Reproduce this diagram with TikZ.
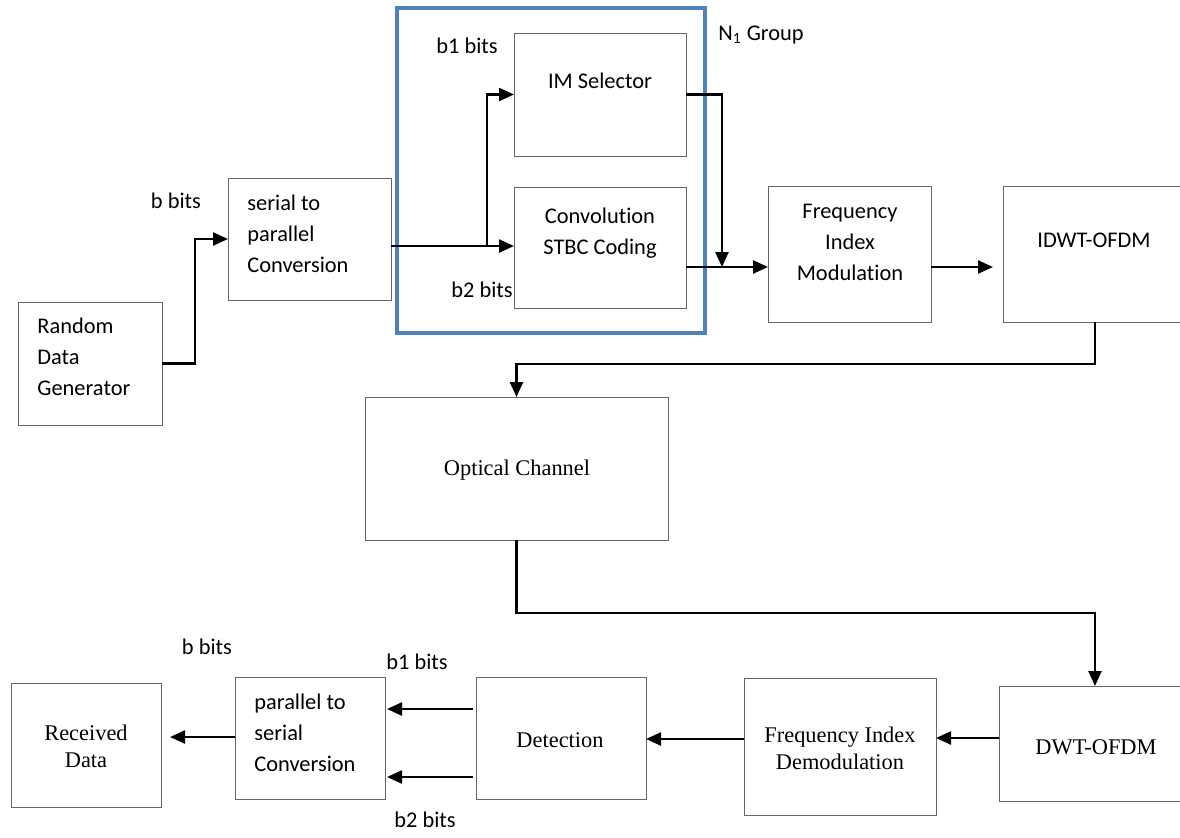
\documentclass[tikz,border=0pt]{standalone}
\usepackage{fontspec}
\setmainfont{Carlito}[Ligatures=NoCommon]
\newfontfamily\timesfont{Liberation Serif}
\usetikzlibrary{arrows.meta,calc}
\begin{document}
\begin{tikzpicture}[x=0.5pt,y=-0.5pt,
  box/.style={draw=black!60,line width=0.5pt,rectangle,inner sep=0pt,outer sep=0pt},
  arr/.style={line width=1.2pt,-{Triangle[length=7.5pt,width=6.5pt]}},
  txt/.style={inner sep=0pt,font=\fontsize{11.2}{15.5}\selectfont},
  ttxt/.style={inner sep=0pt,font=\timesfont\fontsize{11.2}{13.5}\selectfont},
  grp/.style={draw={rgb,255:red,79;green,129;blue,189},line width=1.6pt}
]
\useasboundingbox (0,0) rectangle (1180,837);
% group frame
\draw[grp] (397,8) rectangle (705,333);
% boxes
\node[box,minimum width=72pt,minimum height=61.5pt] (rdg) at (90,363.5) {};
\node[box,minimum width=81.5pt,minimum height=61pt] (sp) at (309.5,239) {};
\node[box,minimum width=86pt,minimum height=61.5pt] (im) at (600,94.5) {};
\node[box,minimum width=86pt,minimum height=60.5pt] (conv) at (600,247.5) {};
\node[box,minimum width=81.5pt,minimum height=68pt] (fim) at (849.5,254) {};
\node[box,minimum width=92pt,minimum height=68pt] (idwt) at (1095,254) {};
\node[box,minimum width=151.5pt,minimum height=71.5pt] (opt) at (516.5,468.5) {};
\node[box,minimum width=96pt,minimum height=57.5pt] (dwt) at (1095,743.5) {};
\node[box,minimum width=96pt,minimum height=68.5pt] (fid) at (840,746.5) {};
\node[box,minimum width=85pt,minimum height=61pt] (det) at (561,738) {};
\node[box,minimum width=75pt,minimum height=61pt] (ps) at (310,738) {};
\node[box,minimum width=75pt,minimum height=62pt] (rd) at (86,745) {};
% texts
\node[txt,align=left,anchor=west] (trdg) at (37,357) {Random\\Data\\Generator};
\node[txt,align=left,anchor=west] (tsp) at (247,234) {serial to\\parallel\\Conversion};
\node[txt] (tim) at (600,81) {IM Selector};
\node[txt,align=center] (tconv) at (600,233.5) {Convolution\\STBC Coding};
\node[txt,align=center] (tfim) at (850,242) {Frequency\\Index\\Modulation};
\node[txt] (tidwt) at (1094,240) {IDWT-OFDM};
\node[ttxt] (topt) at (517,470) {Optical Channel};
\node[ttxt] (tdwt) at (1096,747) {DWT-OFDM};
\node[ttxt,align=center] (tfid) at (840,748.5) {Frequency Index\\Demodulation};
\node[ttxt] (tdet) at (560,740) {Detection};
\node[txt,align=left,anchor=west] (tps) at (254,733) {parallel to\\serial\\Conversion};
\node[ttxt,align=center] (trd) at (86,746.5) {Received\\Data};
% bit labels
\node[txt] (lb) at (176,201) {b bits};
\node[txt] (lb1) at (467,46) {b1 bits};
\node[txt] (lb2) at (482,290) {b2 bits};
\node[txt] (lgrp) at (761,35) {N\textsubscript{1} Group};
\node[txt] (lbr) at (207,647) {b bits};
\node[txt] (lbr1) at (417,662) {b1 bits};
\node[txt] (lbr2) at (425,820) {b2 bits};
% connectors
\coordinate (br) at (487,246);
\coordinate (jn) at (722,267);
\draw[arr] (rdg.east) -- ++(33,0) |- (sp.west);
\draw[arr] (sp.east |- br) -- (conv.west |- br);
\draw[arr] (br) |- (im.west);
\draw[arr] (im.east) -| (jn);
\draw[arr] (conv.east |- jn) -- (fim.west |- jn);
\draw[arr,shorten >=5pt] (fim.east |- jn) -- (idwt.west |- jn);
\draw[arr] (idwt.south) -- ++(0,42) -| (opt.north);
\draw[arr] (opt.south) -- ++(0,73) -| (dwt.north);
\draw[arr] (dwt.west |- 0,738) -- (fid.east |- 0,738);
\draw[arr] (fid.west |- 0,739) -- (det.east |- 0,739);
\draw[arr] ([xshift=-1.5pt]det.west |- 0,709) -- ([xshift=1pt]ps.east |- 0,709);
\draw[arr] ([xshift=-1.5pt]det.west |- 0,777) -- ([xshift=1pt]ps.east |- 0,777);
\draw[arr,shorten >=4.5pt] (ps.west |- 0,737) -- (rd.east |- 0,737);
\end{tikzpicture}
\end{document}
